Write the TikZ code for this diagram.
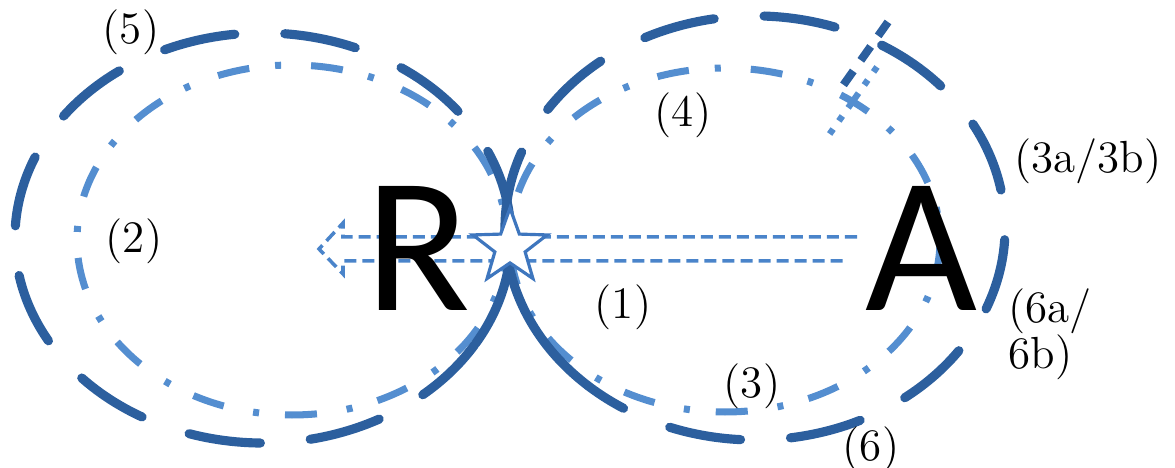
\documentclass[tikz,border=0pt]{standalone}
\usepackage{fontspec}
\newfontfamily\letterfont{Carlito}
\usetikzlibrary{shapes.geometric}
\definecolor{ringdark}{RGB}{44,95,158}
\definecolor{ringlight}{RGB}{84,142,208}
\definecolor{arrowblue}{RGB}{74,132,202}
\definecolor{starblue}{RGB}{62,118,190}

\begin{document}
\begin{tikzpicture}[x=0.01cm,y=-0.01cm]
  \tikzstyle{OuterStyle}=[draw=ringdark,line width=2.6pt,line cap=round,dash pattern=on 0.72cm off 0.5cm,dash phase=0.72cm]
  \tikzstyle{OuterSolid}=[draw=ringdark,line width=2.6pt,line cap=round]
  \tikzstyle{InnerStyle}=[draw=ringlight,line width=2pt,dash pattern=on 0.32cm off 0.26cm on 0.06cm off 0.30cm]
  \tikzstyle{CutDark}=[draw=ringdark,line width=2.3pt,dash pattern=on 0.17cm off 0.13cm]
  \tikzstyle{CutLight}=[draw=ringlight,line width=1.8pt,dash pattern=on 0.06cm off 0.10cm on 0.06cm off 0.10cm on 0.18cm off 0.10cm]
  \tikzstyle{ArrowStyle}=[draw=arrowblue,line width=1pt,dash pattern=on 0.12cm off 0.06cm,line join=miter]
  \tikzstyle{LetterStyle}=[font=\letterfont\fontsize{55}{60}\selectfont,inner sep=0pt]
  \tikzstyle{LabelStyle}=[font=\fontsize{12.8}{13.1}\selectfont,inner sep=0pt]
  \useasboundingbox (0,0) rectangle (1175,468);
  \coordinate (cL) at (263,238);
  \coordinate (cR) at (755,228);
  \coordinate (iL) at (292,240);
  \coordinate (iR) at (725,240);
  % inner rings
  \draw[InnerStyle] (iL) ellipse [x radius=215, y radius=175];
  \draw[InnerStyle] (iR) ellipse [x radius=215, y radius=172];
  % outer rings (the long stroke through the crossing is drawn apart)
  \draw[OuterStyle] (cL) ++(-25:248 and 205) arc[start angle=-25, end angle=-329, x radius=248, y radius=205];
  \draw[OuterSolid] (cL) ++(-25:248 and 205) arc[start angle=-25, end angle=31, x radius=248, y radius=205];
  \draw[OuterStyle] (cR) ++(201:250 and 212) arc[start angle=201, end angle=492, x radius=250, y radius=212];
  \draw[OuterSolid] (cR) ++(132:250 and 212) arc[start angle=132, end angle=201, x radius=250, y radius=212];
  % cut marks
  \coordinate (cutA1) at (888,22);
  \coordinate (cutA2) at (837,94);
  \coordinate (cutB1) at (877,67);
  \coordinate (cutB2) at (824,142);
  \draw[CutDark] (cutA1) -- (cutA2);
  \draw[CutLight] (cutB1) -- (cutB2);
  % hollow arrow A -> R
  \coordinate (tailup) at (857,237);
  \coordinate (taildown) at (845,261);
  \coordinate (tip) at (319,249);
  \draw[ArrowStyle] (tailup) -- ++(-514,0) -- ++(0,-14) -- (tip) -- ++(24,25) -- ++(0,-13) -- (taildown);
  \node[star,star points=5,star point ratio=2.45,minimum size=0.78cm,inner sep=0pt,
        draw=starblue,fill=white,line width=0.9pt] (crossing) at (510,247) {};
  \node[LetterStyle,anchor=base] (R) at (418,311) {R};
  \node[LetterStyle,anchor=base] (A) at (921,311) {A};
  % labels
  \node[LabelStyle] (l5) at (131,32) {(5)};
  \node[LabelStyle] (l2) at (134,241) {(2)};
  \node[LabelStyle] (l4) at (683,115) {(4)};
  \node[LabelStyle] (l1) at (623,307) {(1)};
  \node[LabelStyle] (l3) at (752,386) {(3)};
  \node[LabelStyle] (l6) at (871,449) {(6)};
  \node[LabelStyle] (l3ab) at (1088,161) {(3a/3b)};
  \node[LabelStyle,align=left,anchor=west] (l6ab) at (1008,334) {(6a/\\6b)};
\end{tikzpicture}
\end{document}
